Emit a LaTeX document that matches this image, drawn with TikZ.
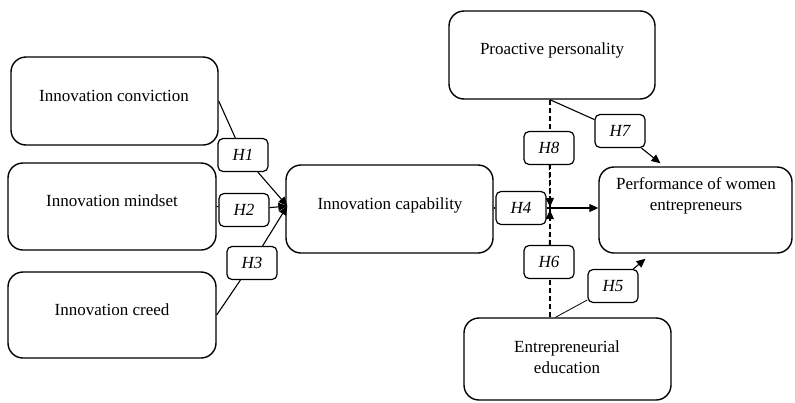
\documentclass[tikz,border=0pt]{standalone}
\usepackage{fontspec}
\setmainfont{Liberation Serif}
\usetikzlibrary{arrows.meta,calc}
\begin{document}
\begin{tikzpicture}[x=1pt,y=-1pt,
  bigbox/.style={draw,line width=1.4pt,rounded corners=15pt,inner sep=0pt},
  txt/.style={font=\fontsize{17}{21}\selectfont,align=center,inner sep=0pt},
  hbox/.style={draw,fill=white,line width=1.2pt,rounded corners=5pt,minimum width=50pt,minimum height=33pt,inner sep=0pt,font=\fontsize{17}{20}\selectfont\itshape},
  conn/.style={line width=1.1pt},
  thinconn/.style={line width=0.8pt},
  arr/.style={line width=1.1pt,-{Triangle[length=9pt,width=8pt]}},
  dashline/.style={line width=1.1pt,dash pattern=on 5pt off 3pt}
]
\useasboundingbox (0,0) rectangle (795,402);
% main boxes
\node[bigbox,minimum width=207pt,minimum height=88pt] (conv) at (114.5,101) {};
\node[bigbox,minimum width=208pt,minimum height=87pt] (mind) at (112,206.5) {};
\node[bigbox,minimum width=208pt,minimum height=86pt] (creed) at (112,315) {};
\node[bigbox,minimum width=207pt,minimum height=88pt] (cap) at (389.5,209) {};
\node[bigbox,minimum width=206pt,minimum height=88pt] (pro) at (552,55) {};
\node[bigbox,minimum width=193pt,minimum height=86pt] (perf) at (695.5,210) {};
\node[bigbox,minimum width=207pt,minimum height=82pt] (edu) at (567.5,359) {};
% texts
\node[txt] (convT) at (114,96) {Innovation conviction};
\node[txt] (mindT) at (112,201) {Innovation mindset};
\node[txt] (creedT) at (112,310) {Innovation creed};
\node[txt] (capT) at (390,205) {Innovation capability};
\node[txt] (proT) at (552,50) {Proactive personality};
\node[txt] (perfT) at (696,196) {Performance of women\\entrepreneurs};
\node[txt] (eduT) at (567,357) {Entrepreneurial\\education};
% junction point
\coordinate (m) at (550,208);
% dashed moderators (drawn first, labels on top)
\draw[dashline] (pro.south -| m) -- (m);
\draw[dashline] (edu.north -| m) -- (m);
% H labels
\node[hbox] (h1) at (243,155) {H1};
\node[hbox] (h2) at (244,210) {H2};
\node[hbox] (h3) at (252,263) {H3};
\node[hbox] (h4) at (521,208) {H4};
\node[hbox] (h8) at (549,148) {H8};
\node[hbox] (h6) at (549,262) {H6};
\node[hbox] (h7) at (620,131) {H7};
\node[hbox] (h5) at (613,286) {H5};
% arrowheads of dashed lines
\draw[arr,dashline] (h8) -- ($(m)+(0,-1)$);
\draw[arr,dashline] (h6) -- ($(m)+(0,2)$);
% connectors to capability
\coordinate (capin) at ($(cap.west)+(2,-3)$);
\draw[conn] (conv.east) -- (h1);
\draw[arr] (h1) -- (capin);
\draw[conn] (mind.east) -- (h2);
\draw[arr] (h2) -- (capin);
\draw[conn] (creed.east) -- (h3);
\draw[arr] (h3) -- (capin);
% capability to performance
\draw[conn] (cap.east |- h4) -- (h4);
\draw[arr] (h4) -- (perf.west |- h4);
% proactive to performance
\draw[conn] (pro.south -| m) -- (h7);
\draw[arr] (h7) -- ($(perf.north)+(-35,-3)$);
% education to performance
\draw[thinconn] ($(edu.north)+(-12,0)$) -- (h5);
\draw[arr] (h5) -- ($(perf.south)+(-50,5)$);
\end{tikzpicture}
\end{document}
